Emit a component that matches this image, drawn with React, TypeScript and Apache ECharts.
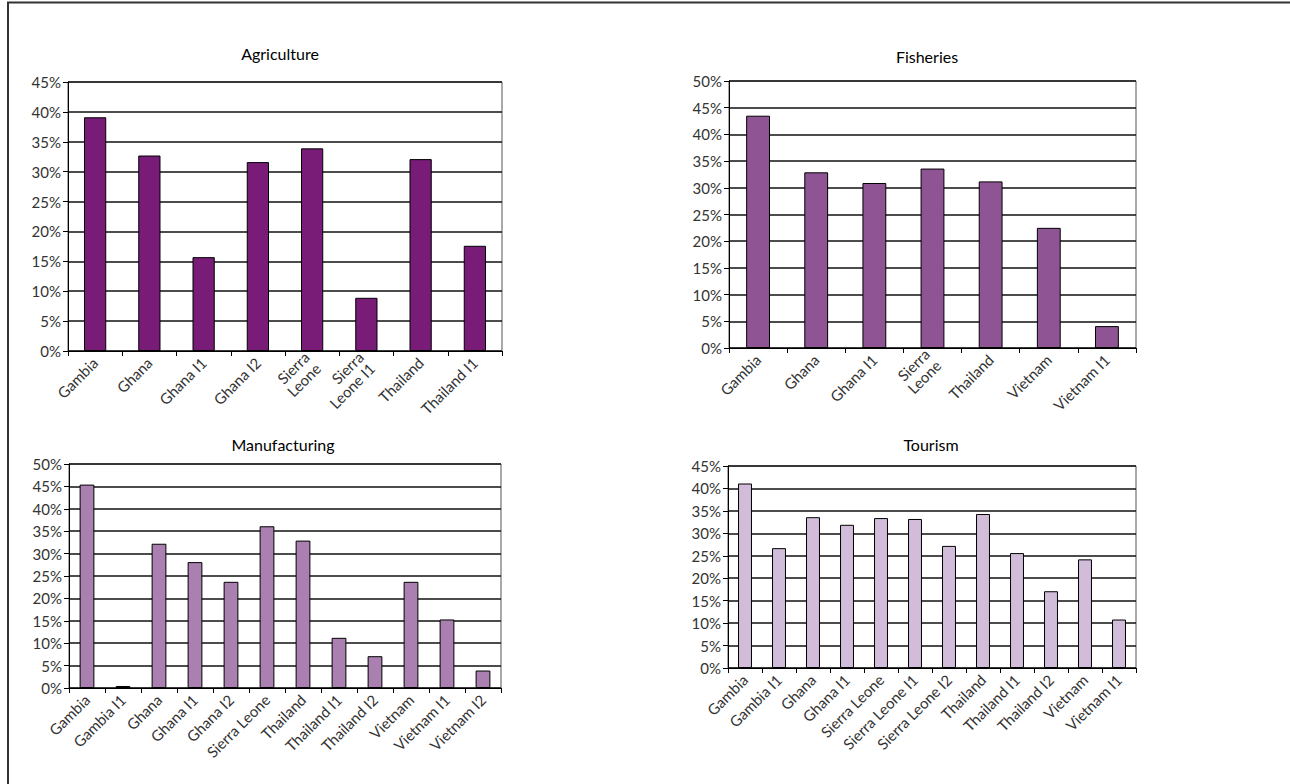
import React, { useEffect, useRef } from "react";
import * as echarts from "echarts";

const agriCategories = ["Gambia", "Ghana", "Ghana I1", "Ghana I2", "Sierra\nLeone", "Sierra\nLeone I1", "Thailand", "Thailand I1"];
const agriValues = [39.1, 32.7, 15.7, 31.6, 33.9, 8.9, 32.1, 17.6];

const fishCategories = ["Gambia", "Ghana", "Ghana I1", "Sierra\nLeone", "Thailand", "Vietnam", "Vietnam I1"];
const fishValues = [43.5, 32.9, 30.9, 33.6, 31.2, 22.5, 4.1];

const manuCategories = ["Gambia", "Gambia I1", "Ghana", "Ghana I1", "Ghana I2", "Sierra Leone", "Thailand", "Thailand I1", "Thailand I2", "Vietnam", "Vietnam I1", "Vietnam I2"];
const manuValues = [45.4, 0.45, 32.2, 28.1, 23.7, 36.1, 32.9, 11.2, 7.1, 23.7, 15.3, 3.9];

const tourCategories = ["Gambia", "Gambia I1", "Ghana", "Ghana I1", "Sierra Leone", "Sierra Leone I1", "Sierra Leone I2", "Thailand", "Thailand I1", "Thailand I2", "Vietnam", "Vietnam I1"];
const tourValues = [41.1, 26.7, 33.6, 31.9, 33.4, 33.2, 27.2, 34.3, 25.6, 17.1, 24.2, 10.8];

const panelTitles = ["Agriculture", "Fisheries", "Manufacturing", "Tourism"];
const yMaxes = [45, 50, 50, 45];

const FONT = "Lato, 'Open Sans', sans-serif";

export default function App() {
  const ref = useRef<HTMLDivElement>(null);
  useEffect(() => {
    if (!ref.current) return;
    const chart = echarts.init(ref.current, null, { renderer: "svg" });
    const grids = [
      { left: 68, top: 82, width: 434, height: 269 },
      { left: 729, top: 81, width: 407, height: 267 },
      { left: 69, top: 464, width: 432, height: 224 },
      { left: 728, top: 466, width: 408, height: 202 },
    ];
    const cats = [agriCategories, fishCategories, manuCategories, tourCategories];
    const vals = [agriValues, fishValues, manuValues, tourValues];
    const colors = ["#781C78", "#8E5494", "#AA80B0", "#D1BDD9"];
    const titlePos = [
      { x: 275, y: 50 },
      { x: 922, y: 53 },
      { x: 278, y: 441 },
      { x: 926, y: 441 },
    ];
    chart.setOption({
      animation: false,
      backgroundColor: "#fff",
      title: panelTitles.map((t, i) => ({
        text: t,
        left: titlePos[i].x,
        top: titlePos[i].y - 10,
        textAlign: "center",
        textStyle: { fontFamily: FONT, fontSize: 16, fontWeight: "normal", color: "#000" },
      })),
      grid: grids.map((g) => ({
        ...g,
        show: true,
        borderColor: "#555",
        borderWidth: 1,
        backgroundColor: "#fff",
      })),
      xAxis: cats.map((c, i) => ({
        type: "category",
        gridIndex: i,
        data: c,
        axisLine: { show: true, lineStyle: { color: "#000", width: 1 } },
        axisTick: { show: true, length: 5, lineStyle: { color: "#000" } },
        axisLabel: {
          interval: 0,
          rotate: 45,
          margin: 9,
          fontFamily: FONT,
          fontSize: 15,
          color: "#333",
          lineHeight: 16,
        },
        splitLine: { show: false },
      })),
      yAxis: vals.map((_, i) => ({
        type: "value",
        gridIndex: i,
        min: 0,
        max: yMaxes[i],
        interval: 5,
        axisLine: { show: true, lineStyle: { color: "#000", width: 1 } },
        axisTick: { show: true, length: 5, lineStyle: { color: "#000" } },
        axisLabel: {
          formatter: "{value}%",
          fontFamily: FONT,
          fontSize: 15,
          color: "#333",
          margin: 7,
        },
        splitLine: { show: true, lineStyle: { color: "#111", width: 1.5 } },
      })),
      series: vals.map((v, i) => ({
        type: "bar",
        xAxisIndex: i,
        yAxisIndex: i,
        data: v,
        barWidth: "41%",
        itemStyle: { color: colors[i], borderColor: "#000", borderWidth: 1 },
      })),
      graphic: [
        {
          type: "rect",
          shape: { x: 8, y: 2.5, width: 1300, height: 800 },
          style: { fill: "none", stroke: "#333", lineWidth: 2 },
          silent: true,
        },
      ],
    });
    return () => chart.dispose();
  }, []);
  return (
    <div
      ref={ref}
      style={{ position: "absolute", left: 0, top: 0, width: 1290, height: 784 }}
    />
  );
}
